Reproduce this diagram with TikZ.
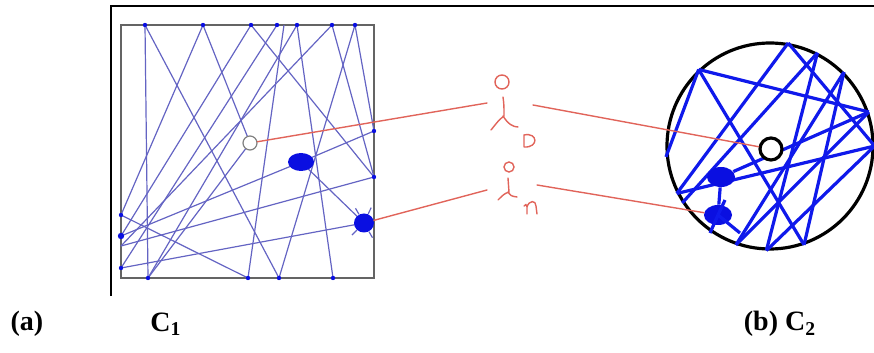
\documentclass[tikz,border=0pt]{standalone}
\usepackage{fontspec}
\setmainfont{Liberation Serif}
\usetikzlibrary{shapes.geometric, positioning, calc}
\definecolor{cRay}{RGB}{100,100,195}
\definecolor{cDot}{RGB}{10,15,225}
\definecolor{cBlue}{RGB}{15,25,235}
\definecolor{cPen}{RGB}{225,100,90}
\definecolor{cFrame}{RGB}{100,100,100}
\tikzset{
	ray/.style     ={cRay, line width=0.6pt},
	thickray/.style={cBlue, line width=1.6pt},
	pen/.style     ={cPen, line width=0.7pt, line cap=round},
	hole/.style    ={circle, draw=gray, fill=white, line width=0.6pt, minimum size=7pt, inner sep=0pt},
	bighole/.style ={circle, draw=black, fill=white, line width=1.6pt, minimum size=11pt, inner sep=0pt},
	blob/.style    ={ellipse, fill=cDot, inner sep=0pt},
	disc/.style    ={circle, draw=black, line width=1.6pt, minimum size=103pt, inner sep=0pt},
	caption/.style ={font=\fontsize{14}{16}\selectfont\bfseries, inner sep=0pt},
}

\begin{document}
\begin{tikzpicture}[x=0.5pt, y=-0.5pt]
	\useasboundingbox (0,0) rectangle (874,353);
	\draw[line width=0.7pt] (111,296) -- (111,6) -- (874,6);
	\draw[cFrame, line width=1pt] (121,25) rectangle (374,278);
	% bounce points of the square room
	\foreach \n/\x/\y in {t1/145/25, t2/203/25, t3/251/25, t4/277/25, t5/284/25, t6/297/25, t7/332/25, t8/355/25,
		b1/148/278, b2/248/278, b3/279/278, b4/333/278, l1/121/215, l2/121/236, l3/121/268, l4/121/246,
		r1/374/131, r2/374/177, q1/250/143, q2/301/162, q3/364/223}
		\coordinate (\n) at (\x,\y);
	\foreach \a/\b in {t1/b1, t1/b3, t2/l1, t2/q1, t3/l2, t3/r2, t4/l3, t5/b2, t6/b1, t6/b4, t7/l4, t7/r2,
		t8/r1, t8/b3, l1/b2, l2/q2, l4/r2, l3/q3, q2/q3, q2/r1, q1/b1}
		\draw[ray] (\a) -- (\b);
	\foreach \n in {t1, t2, t3, t4, t6, t7, t8, b1, b2, b3, b4, l1, l3, r1, r2}
		\fill[cDot] (\n) circle (1.1pt);
	\fill[cDot] (l2) circle (1.6pt);
	\node[hole] (ho1) at (q1) {};
	\node[blob, minimum width=13pt, minimum height=9pt] (k1) at (q2) {};
	\node[blob, minimum width=10pt, minimum height=9.5pt] (k2) at (q3) {};
	\foreach \a in {65, 120, 225, 300}
		\draw[cRay, line width=0.6pt] ($(k2)+(\a:5pt)$) -- ($(k2)+(\a:8.5pt)$);

	% round room
	\node[disc] (c2) at (770,146) {};
	\foreach \a/\b in {133.5/186.6, 133.5/19.7, 133.5/289, 80/207, 80/0.5, 63.4/213, 63.4/268,
		45/289, 45/251, 0.5/207, 0.5/268, 19.7/251}
		\draw[thickray] (c2.\a) -- (c2.\b);
	\node[blob, minimum width=14pt, minimum height=10pt] (ka) at (721,177) {};
	\node[blob, minimum width=14pt, minimum height=10pt] (kb) at (718,215) {};
	\draw[thickray] (ka) -- (c2.19.7);
	\draw[thickray] (ka) -- (kb);
	\draw[thickray] (kb.center) -- ++(-4pt,-9pt);
	\draw[thickray] (kb.center) -- ++(11pt,-9pt);
	\draw[thickray] (kb.center) -- ++(3.5pt,7.5pt);
	\node[bighole] (ho2) at (771,149) {};

	% hand-written marks
	\coordinate (iow) at (487,103);
	\coordinate (ioe) at (533,105);
	\coordinate (inw) at (487,190);
	\coordinate (ine) at (537,185);
	\draw[pen] (ho1) -- (iow);
	\draw[pen] (ioe) -- (ho2);
	\draw[pen] (k2) -- (inw);
	\draw[pen] (ine) -- (kb);
	\draw[pen] (502,82) circle (3.5pt);
	\draw[pen] (503,97) .. controls (504,105) .. (504,116) .. controls (499,120) .. (491,130);
	\draw[pen] (503,116) .. controls (508,124) and (513,127) .. (518,127);
	\draw[pen] (524,147) -- (524,135) .. controls (538,132) and (539,148) .. (524,147);
	\draw[pen] (509,167) circle (2.5pt);
	\draw[pen] (508,178) -- (509,192) .. controls (504,194) .. (498,200);
	\draw[pen] (508,192) .. controls (511,196) .. (517,197);
	\draw[pen] (524,206) .. controls (526,204) .. (527,207) -- (527,214)
		(527,207) .. controls (529,200) and (536,200) .. (536,206) -- (537,214);

	\node[caption] (la) at (27,324) {(a)};
	\node[caption] (lc1) at (166,324) {C\textsubscript{1}};
	\node[caption] (lb) at (780,324) {(b) C\textsubscript{2}};
\end{tikzpicture}
\end{document}
